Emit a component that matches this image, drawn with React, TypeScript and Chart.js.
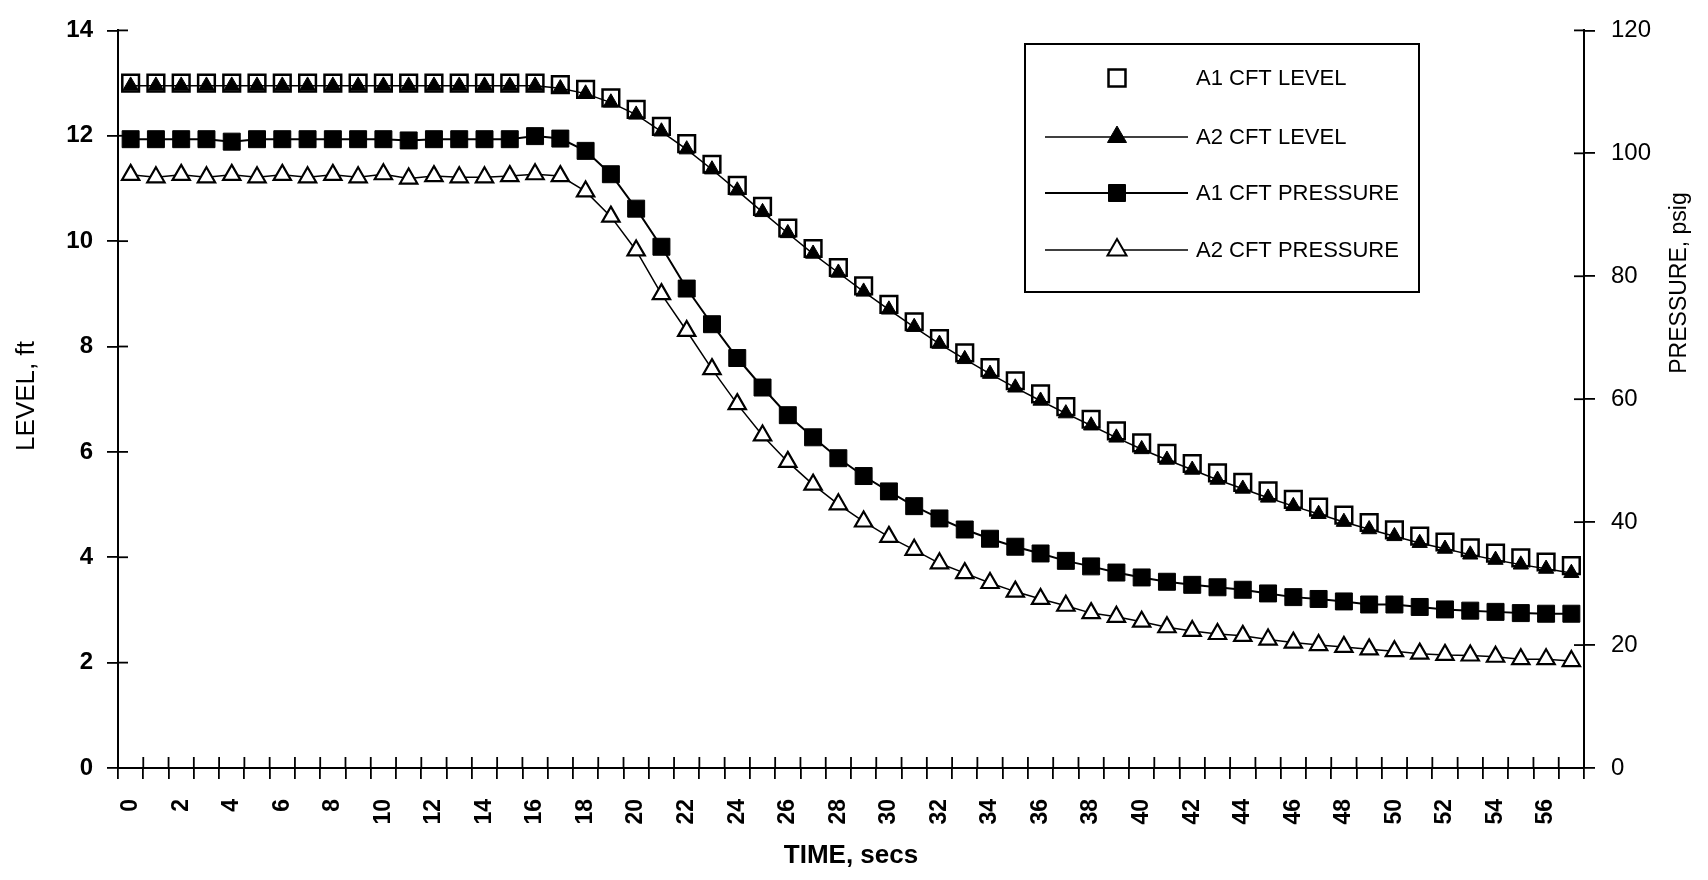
import React, { useEffect, useRef } from 'react';
import { Chart, registerables } from 'chart.js';

Chart.register(...registerables);

const timeLabels = [
  '0','1','2','3','4','5','6','7','8','9',
  '10','11','12','13','14','15','16','17','18','19',
  '20','21','22','23','24','25','26','27','28','29',
  '30','31','32','33','34','35','36','37','38','39',
  '40','41','42','43','44','45','46','47','48','49',
  '50','51','52','53','54','55','56','57',
];

const a1CftLevel = [
  13.0, 13.0, 13.0, 13.0, 13.0, 13.0, 13.0, 13.0, 13.0, 13.0,
  13.0, 13.0, 13.0, 13.0, 13.0, 13.0, 13.0, 12.97, 12.88, 12.72,
  12.5, 12.18, 11.85, 11.46, 11.06, 10.66, 10.25, 9.86, 9.5, 9.15,
  8.8, 8.47, 8.15, 7.88, 7.6, 7.35, 7.1, 6.86, 6.62, 6.4,
  6.17, 5.97, 5.78, 5.6, 5.42, 5.26, 5.1, 4.95, 4.8, 4.66,
  4.52, 4.4, 4.29, 4.18, 4.08, 3.99, 3.91, 3.84,
];

const a2CftLevel = [
  12.95, 12.95, 12.95, 12.95, 12.95, 12.95, 12.95, 12.95, 12.95, 12.95,
  12.95, 12.95, 12.95, 12.95, 12.95, 12.95, 12.95, 12.9, 12.8, 12.63,
  12.4, 12.08, 11.74, 11.36, 10.96, 10.55, 10.15, 9.76, 9.4, 9.04,
  8.7, 8.37, 8.05, 7.76, 7.48, 7.22, 6.97, 6.73, 6.5, 6.27,
  6.05, 5.85, 5.66, 5.47, 5.3, 5.13, 4.97, 4.82, 4.67, 4.53,
  4.4, 4.27, 4.16, 4.05, 3.95, 3.86, 3.78, 3.7,
];

const a1CftPressure = [
  102.3, 102.3, 102.3, 102.3, 101.9, 102.3, 102.3, 102.3, 102.3, 102.3,
  102.3, 102.1, 102.3, 102.3, 102.3, 102.3, 102.8, 102.4, 100.4, 96.6,
  91.0, 84.8, 78.0, 72.2, 66.7, 61.9, 57.4, 53.8, 50.4, 47.5,
  45.0, 42.6, 40.6, 38.8, 37.3, 36.0, 34.9, 33.7, 32.8, 31.8,
  31.0, 30.3, 29.8, 29.4, 29.0, 28.4, 27.8, 27.5, 27.1, 26.6,
  26.6, 26.2, 25.8, 25.6, 25.4, 25.2, 25.1, 25.1,
];

const a2CftPressure = [
  96.5, 96.1, 96.5, 96.1, 96.5, 96.1, 96.5, 96.1, 96.5, 96.1,
  96.6, 95.9, 96.3, 96.1, 96.1, 96.3, 96.6, 96.3, 93.8, 89.7,
  84.2, 77.1, 71.1, 64.9, 59.2, 54.1, 49.8, 46.1, 42.9, 40.1,
  37.6, 35.5, 33.3, 31.7, 30.1, 28.7, 27.5, 26.4, 25.2, 24.6,
  23.8, 22.9, 22.3, 21.8, 21.5, 20.9, 20.4, 20.0, 19.7, 19.3,
  19.0, 18.6, 18.4, 18.3, 18.1, 17.7, 17.7, 17.4,
];

const seriesNames = ['A1 CFT LEVEL', 'A2 CFT LEVEL', 'A1 CFT PRESSURE', 'A2 CFT PRESSURE'];

const FONT = '"Liberation Sans", Arial, Helvetica, sans-serif';
const W = 1708;
const H = 880;

function drawMarker(ctx: CanvasRenderingContext2D, style: string, x: number, y: number, r: number, fill: string, lw: number) {
  ctx.beginPath();
  if (style === 'rect') {
    const s = Math.SQRT1_2 * r;
    ctx.rect(x - s, y - s, 2 * s, 2 * s);
  } else {
    let rad = 0;
    ctx.moveTo(x + Math.sin(rad) * r, y - Math.cos(rad) * r);
    rad += (2 * Math.PI) / 3;
    ctx.lineTo(x + Math.sin(rad) * r, y - Math.cos(rad) * r);
    rad += (2 * Math.PI) / 3;
    ctx.lineTo(x + Math.sin(rad) * r, y - Math.cos(rad) * r);
    ctx.closePath();
  }
  ctx.fillStyle = fill;
  ctx.fill();
  ctx.lineWidth = lw;
  ctx.strokeStyle = '#000';
  ctx.stroke();
}

const decorPlugin = {
  id: 'decor',
  afterDraw(chart: any) {
    const ctx: CanvasRenderingContext2D = chart.ctx;
    const x = chart.scales.x;
    const yL = chart.scales.yLevel;
    const yR = chart.scales.yPressure;
    ctx.save();
    ctx.strokeStyle = '#000';
    ctx.lineWidth = 1.8;
    // inner halves of crossing tick marks
    const step = x.getPixelForValue(1) - x.getPixelForValue(0);
    const x0 = x.getPixelForValue(0) - step / 2;
    for (let i = 0; i <= timeLabels.length; i++) {
      const px = x0 + i * step;
      ctx.beginPath();
      ctx.moveTo(px, x.top);
      ctx.lineTo(px, x.top - 11);
      ctx.stroke();
    }
    yL.ticks.forEach((t: any) => {
      const py = yL.getPixelForValue(t.value);
      ctx.beginPath();
      ctx.moveTo(yL.right, py);
      ctx.lineTo(yL.right + 10, py);
      ctx.stroke();
    });
    yR.ticks.forEach((t: any) => {
      const py = yR.getPixelForValue(t.value);
      ctx.beginPath();
      ctx.moveTo(yR.left, py);
      ctx.lineTo(yR.left - 10, py);
      ctx.stroke();
    });

    // axis titles
    ctx.fillStyle = '#000';
    ctx.textAlign = 'center';
    ctx.textBaseline = 'middle';
    ctx.font = `26px ${FONT}`;
    ctx.save();
    ctx.translate(27, 396);
    ctx.rotate(-Math.PI / 2);
    ctx.fillText('LEVEL, ft', 0, 0);
    ctx.restore();
    ctx.font = `23px ${FONT}`;
    ctx.save();
    ctx.translate(1680, 283);
    ctx.rotate(-Math.PI / 2);
    ctx.fillText('PRESSURE, psig', 0, 0);
    ctx.restore();

    // legend
    const box = { left: 1025, top: 44, right: 1419, bottom: 292 };
    ctx.lineWidth = 2;
    ctx.strokeRect(box.left, box.top, box.right - box.left, box.bottom - box.top);
    const rowY = [78, 137, 193, 250];
    const styles = [
      { line: false, style: 'rect', r: 12, fill: '#fff', lw: 2.5, bw: 0 },
      { line: true, style: 'triangle', r: 11, fill: '#000', lw: 1, bw: 1.5 },
      { line: true, style: 'rect', r: 12, fill: '#000', lw: 1, bw: 2 },
      { line: true, style: 'triangle', r: 11, fill: '#fff', lw: 2, bw: 1.5 },
    ];
    ctx.font = `22px ${FONT}`;
    ctx.textAlign = 'left';
    seriesNames.forEach((name, i) => {
      const s = styles[i];
      const y = rowY[i];
      if (s.line) {
        ctx.lineWidth = s.bw;
        ctx.beginPath();
        ctx.moveTo(1045, y);
        ctx.lineTo(1188, y);
        ctx.stroke();
      }
      drawMarker(ctx, s.style, 1117, y, s.r, s.fill, s.lw);
      ctx.fillStyle = '#000';
      ctx.fillText(name, 1196, y + 1);
    });
    ctx.restore();
  },
};

export default function App() {
  const canvasRef = useRef<HTMLCanvasElement | null>(null);

  useEffect(() => {
    document.body.style.margin = '0';
    const canvas = canvasRef.current;
    if (!canvas) return;
    Chart.defaults.font.family = FONT;
    Chart.defaults.color = '#000';

    const chart = new Chart(canvas, {
      type: 'line',
      data: {
        labels: timeLabels,
        datasets: [
          {
            label: seriesNames[0],
            data: a1CftLevel,
            yAxisID: 'yLevel',
            showLine: false,
            pointStyle: 'rect',
            pointRadius: 11.8,
            pointBackgroundColor: '#fff',
            pointBorderColor: '#000',
            pointBorderWidth: 2.5,
            borderColor: '#000',
            order: 2,
          },
          {
            label: seriesNames[1],
            data: a2CftLevel,
            yAxisID: 'yLevel',
            borderColor: '#000',
            borderWidth: 1.5,
            pointStyle: 'triangle',
            pointRadius: 8.8,
            pointBackgroundColor: '#000',
            pointBorderColor: '#000',
            pointBorderWidth: 1,
            order: 1,
          },
          {
            label: seriesNames[2],
            data: a1CftPressure,
            yAxisID: 'yPressure',
            borderColor: '#000',
            borderWidth: 2,
            pointStyle: 'rect',
            pointRadius: 12,
            pointBackgroundColor: '#000',
            pointBorderColor: '#000',
            pointBorderWidth: 1,
            order: 3,
          },
          {
            label: seriesNames[3],
            data: a2CftPressure,
            yAxisID: 'yPressure',
            borderColor: '#000',
            borderWidth: 1.5,
            pointStyle: 'triangle',
            pointRadius: 10,
            pointBackgroundColor: '#fff',
            pointBorderColor: '#000',
            pointBorderWidth: 2.2,
            order: 4,
          },
        ],
      },
      options: {
        responsive: false,
        animation: false,
        events: [],
        layout: { padding: { left: 0, right: 0, top: 29, bottom: 0 } },
        elements: { line: { tension: 0 } },
        plugins: {
          legend: { display: false },
          tooltip: { enabled: false },
        },
        scales: {
          x: {
            type: 'category',
            offset: true,
            grid: { display: true, drawOnChartArea: false, offset: true, tickLength: 11, color: '#000', lineWidth: 1.8 },
            border: { display: true, color: '#000', width: 2 },
            ticks: {
              autoSkip: false,
              minRotation: 90,
              maxRotation: 90,
              padding: 20,
              color: '#000',
              font: { family: FONT, size: 23, weight: 'bold' },
              callback: (_v: any, i: number) => (i % 2 === 0 ? timeLabels[i] : ''),
            },
            title: {
              display: true,
              text: 'TIME, secs',
              color: '#000',
              font: { family: FONT, size: 26, weight: 'bold' },
              padding: { top: 0, bottom: 9 },
            },
            afterFit: (s: any) => { s.height = H - 768; },
          },
          yLevel: {
            type: 'linear',
            position: 'left',
            min: 0,
            max: 14,
            grid: { display: true, drawOnChartArea: false, tickLength: 11, color: '#000', lineWidth: 1.8 },
            border: { display: true, color: '#000', width: 2 },
            ticks: {
              stepSize: 2,
              padding: 14,
              color: '#000',
              font: { family: FONT, size: 24, weight: 'bold' },
            },
            afterFit: (s: any) => { s.width = 118; },
          },
          yPressure: {
            type: 'linear',
            position: 'right',
            min: 0,
            max: 120,
            grid: { display: true, drawOnChartArea: false, tickLength: 11, color: '#000', lineWidth: 1.8 },
            border: { display: true, color: '#000', width: 2 },
            ticks: {
              stepSize: 20,
              padding: 16,
              color: '#000',
              font: { family: FONT, size: 24, weight: 'normal' },
            },
            afterFit: (s: any) => { s.width = W - 1584; },
          },
        },
      } as any,
      plugins: [decorPlugin],
    });

    return () => {
      chart.destroy();
    };
  }, []);

  return (
    <div style={{ width: W, height: H, background: '#fff' }}>
      <canvas ref={canvasRef} width={W} height={H} style={{ display: 'block' }} />
    </div>
  );
}
